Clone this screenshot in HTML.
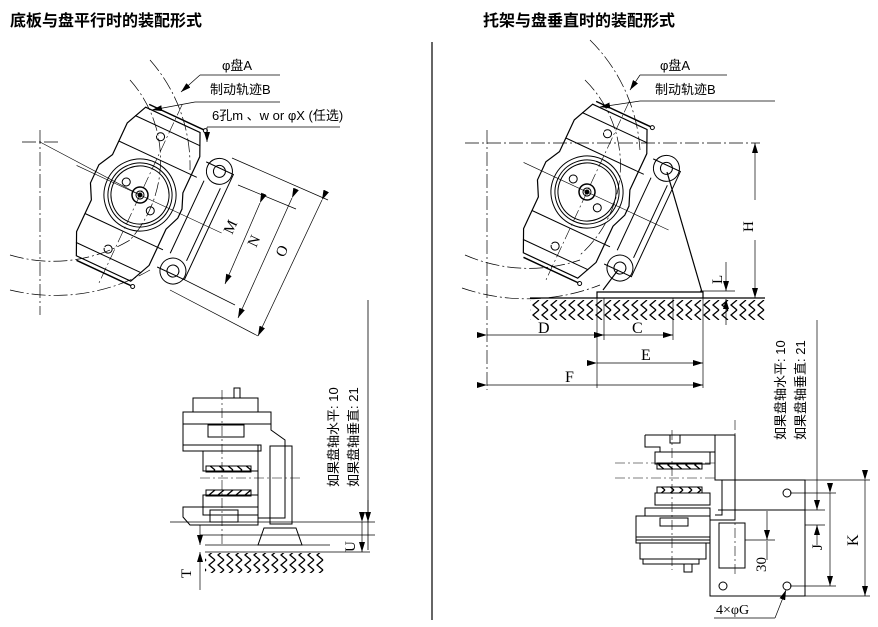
<!DOCTYPE html>
<html><head><meta charset="utf-8"><style>
html,body{margin:0;padding:0;background:#fff}
svg{display:block}
text{font-family:"Liberation Sans","Noto Sans CJK SC",sans-serif;fill:#000}
.s{font-family:"Liberation Serif","Noto Serif CJK SC",serif}
</style></head><body>
<svg width="878" height="627" viewBox="0 0 878 627" xmlns="http://www.w3.org/2000/svg" fill="none" stroke="#000" stroke-width="1">
<defs>
<pattern id="h" width="9" height="10" patternUnits="userSpaceOnUse">
<path d="M8 0 L2 5 L8 10" stroke="#000" stroke-width="1.3" fill="none"/>
</pattern>
<marker id="a" markerWidth="10" markerHeight="6" refX="10" refY="3" orient="auto" markerUnits="userSpaceOnUse"><path d="M0 0 L10 3 L0 6z" fill="#000" stroke="none"/></marker>
<g id="cal">
<path d="M-32 -82 L28 -82 L38 -60 L38 -20 L44 -5 L44 5 L38 20 L38 60 L28 82 L-32 82 L-42 60 L-42 25 L-50 10 L-50 -10 L-42 -25 L-42 -60 Z" stroke-width="1.2"/>
<path d="M-38 -70 L34 -70 M-38 70 L34 70 M-42 -40 L44 -40 M-42 40 L44 40"/>
<circle r="36"/><circle r="32"/><circle r="29"/>
<circle r="8" stroke-width="1.5"/><circle r="4"/><circle r="2" fill="#000"/>
<circle cx="-18" cy="-6" r="4"/><circle cx="16" cy="10" r="4"/>
<path d="M-10 -62 a4 4 0 1 1 0 1 M-10 62 a4 4 0 1 1 0 1" />
<path d="M-30 -86 L30 -86 M-30 86 L30 86" stroke-width="1.5"/>
<circle cx="32" cy="-86" r="2"/><circle cx="32" cy="86" r="2"/>
<path d="M0 -100 L0 100" stroke-dasharray="12 3 2 3" stroke-width=".6"/>
<path d="M-70 0 L90 0" stroke-width=".6"/>
<path d="M46 -58 L76 -58 L76 58 L46 58" />
<path d="M52 -40 L52 40 M70 -40 L70 40"/>
<circle cx="62" cy="-55" r="13"/><circle cx="62" cy="-55" r="6"/>
<circle cx="62" cy="55" r="13"/><circle cx="62" cy="55" r="6"/>
</g>
</defs>

<text x="10" y="26" font-size="16" font-weight="bold" stroke="none">底板与盘平行时的装配形式</text>
<text x="483" y="26" font-size="16" font-weight="bold" stroke="none">托架与盘垂直时的装配形式</text>
<line x1="432" y1="42" x2="432" y2="620" stroke-width="1.2"/>

<!-- LEFT TOP -->
<g stroke-width=".7" stroke-dasharray="14 3 2 3">
<path d="M150 60 A160 160 0 0 1 190 170"/>
<path d="M130 80 A120 120 0 0 1 130 240"/>
<path d="M10 255 A150 150 0 0 0 130 240"/>
<path d="M10 290 A190 190 0 0 0 150 270"/>
<line x1="40" y1="130" x2="40" y2="315"/>
<line x1="22" y1="142" x2="58" y2="142"/>
</g>
<line x1="40" y1="142" x2="140" y2="195" stroke-width=".6"/>
<g transform="translate(140,195) rotate(25)"><use href="#cal"/></g>
<text x="222" y="70" font-size="13" stroke="none">φ盘A</text>
<line x1="200" y1="75" x2="280" y2="75" stroke-width=".7"/>
<line x1="200" y1="75" x2="181" y2="92" stroke-width=".7" marker-end="url(#a)"/>
<text x="210" y="94" font-size="13" stroke="none">制动轨迹B</text>
<line x1="195" y1="102" x2="280" y2="102" stroke-width=".7"/>
<line x1="195" y1="102" x2="152" y2="110" stroke-width=".7" marker-end="url(#a)"/>
<text x="212" y="120" font-size="13" stroke="none">6孔m 、w or φX (任选)</text>
<line x1="207" y1="127" x2="340" y2="127" stroke-width=".7"/>
<line x1="207" y1="127" x2="207" y2="142" stroke-width=".7" marker-end="url(#a)"/>
<g stroke-width=".7">
<line x1="232" y1="158" x2="328" y2="200"/><line x1="238" y1="185" x2="296" y2="209"/>
<line x1="170" y1="290" x2="258" y2="336"/><line x1="185" y1="280" x2="235" y2="305"/>
<line x1="260" y1="203" x2="225" y2="284" marker-start="url(#a)" marker-end="url(#a)"/>
<line x1="292" y1="198" x2="238" y2="318" marker-start="url(#a)" marker-end="url(#a)"/>
<line x1="322" y1="200" x2="258" y2="336" marker-start="url(#a)" marker-end="url(#a)"/>
</g>
<text class="s" x="0" y="0" font-size="15" stroke="none" transform="translate(232,235) rotate(-65)">M</text>
<text class="s" x="0" y="0" font-size="15" stroke="none" transform="translate(256,248) rotate(-65)">N</text>
<text class="s" x="0" y="0" font-size="15" stroke="none" transform="translate(284,258) rotate(-65)">O</text>
<line x1="368" y1="300" x2="368" y2="550" stroke-width=".8"/>

<!-- LEFT BOTTOM -->
<g stroke-width="1">
<rect x="193" y="398" width="65" height="14"/>
<rect x="183" y="412" width="88" height="12"/>
<path d="M183 424 L271 424 L271 430 L285 440 L285 518 L258 518 L258 445 L183 445 Z"/>
<rect x="208" y="425" width="36" height="12"/>
<rect x="183" y="445" width="78" height="6"/>
<rect x="203" y="451" width="55" height="20"/>
<rect x="206" y="466" width="45" height="6" fill="url(#h)"/>
<rect x="206" y="490" width="45" height="6" fill="url(#h)"/>
<rect x="203" y="495" width="55" height="20"/>
<path d="M183 507 L258 507 L258 525 L190 525 L183 517 Z"/>
<rect x="210" y="510" width="28" height="12"/>
<rect x="270" y="446" width="22" height="78"/>
<rect x="234" y="388" width="6" height="10"/>
<path d="M264 528 L296 528 L302 545 L258 545 Z"/>
<line x1="222" y1="390" x2="222" y2="545" stroke-dasharray="10 3 2 3" stroke-width=".6"/>
<line x1="200" y1="478" x2="300" y2="478" stroke-dasharray="10 3 2 3" stroke-width=".6"/>
</g>
<g stroke-width=".7">
<line x1="170" y1="522" x2="375" y2="522"/>
<line x1="200" y1="535" x2="375" y2="535"/>
<line x1="205" y1="545" x2="330" y2="545"/>
<line x1="205" y1="552" x2="370" y2="552"/>
<line x1="200" y1="525" x2="200" y2="545" marker-end="url(#a)"/>
<line x1="200" y1="590" x2="200" y2="552" marker-end="url(#a)"/>
<line x1="362" y1="522" x2="362" y2="552" marker-start="url(#a)" marker-end="url(#a)"/>
<line x1="368" y1="500" x2="368" y2="522" marker-end="url(#a)"/>
</g>
<rect x="205" y="553" width="120" height="20" fill="url(#h)" stroke="none"/>
<text class="s" font-size="15" stroke="none" transform="translate(191,578) rotate(-90)">T</text>
<text class="s" font-size="15" stroke="none" transform="translate(355,552) rotate(-90)">U</text>
<text font-size="13" stroke="none" transform="translate(338,487) rotate(-90)">如果盘轴水平: 10</text>
<text font-size="13" stroke="none" transform="translate(358,487) rotate(-90)">如果盘轴垂直: 21</text>

<!-- RIGHT TOP -->
<g stroke-width=".7" stroke-dasharray="14 3 2 3">
<path d="M590 40 A170 170 0 0 1 640 150"/>
<path d="M585 80 A120 120 0 0 1 580 255"/>
<path d="M465 255 A160 160 0 0 0 580 260"/>
<path d="M462 288 A200 200 0 0 0 600 285"/>
<line x1="487" y1="130" x2="487" y2="390"/>
<line x1="465" y1="143" x2="760" y2="143"/>
</g>
<g transform="translate(587,192) rotate(25)"><use href="#cal"/></g>
<line x1="667" y1="172" x2="702" y2="292" stroke-width="1.2"/>
<line x1="618" y1="270" x2="603" y2="290" stroke-width="1.2"/>
<path d="M597 298 L597 292 L703 292 L703 298" stroke-width="1.2"/>
<line x1="530" y1="298" x2="765" y2="298" stroke-width="1.2"/>
<rect x="530" y="300" width="235" height="20" fill="url(#h)" stroke="none"/>
<text x="660" y="70" font-size="13" stroke="none">φ盘A</text>
<line x1="640" y1="75" x2="727" y2="75" stroke-width=".7"/>
<line x1="640" y1="75" x2="630" y2="90" stroke-width=".7" marker-end="url(#a)"/>
<text x="655" y="94" font-size="13" stroke="none">制动轨迹B</text>
<line x1="640" y1="101" x2="775" y2="101" stroke-width=".7"/>
<line x1="640" y1="101" x2="600" y2="107" stroke-width=".7" marker-end="url(#a)"/>
<g stroke-width=".7">
<line x1="755" y1="200" x2="755" y2="143" marker-end="url(#a)"/>
<line x1="755" y1="240" x2="755" y2="298" marker-end="url(#a)"/>
<line x1="726" y1="262" x2="726" y2="291" marker-end="url(#a)"/>
<line x1="726" y1="325" x2="726" y2="299" marker-end="url(#a)"/>
<line x1="700" y1="291" x2="735" y2="291"/>
<line x1="597" y1="298" x2="597" y2="388"/>
<line x1="604" y1="298" x2="604" y2="340"/>
<line x1="673" y1="298" x2="673" y2="340"/>
<line x1="703" y1="298" x2="703" y2="388"/>
<line x1="487" y1="335" x2="604" y2="335" marker-start="url(#a)" marker-end="url(#a)"/>
<line x1="604" y1="335" x2="673" y2="335" marker-start="url(#a)" marker-end="url(#a)"/>
<line x1="597" y1="363" x2="703" y2="363" marker-start="url(#a)" marker-end="url(#a)"/>
<line x1="487" y1="385" x2="703" y2="385" marker-start="url(#a)" marker-end="url(#a)"/>
</g>
<text class="s" x="735" y="230" font-size="15" stroke="none" transform="rotate(-90 745 222)">H</text>
<text class="s" x="708" y="282" font-size="15" stroke="none" transform="rotate(-90 716 276)">L</text>
<text class="s" x="538" y="333" font-size="16" stroke="none">D</text>
<text class="s" x="632" y="333" font-size="16" stroke="none">C</text>
<text class="s" x="641" y="360" font-size="16" stroke="none">E</text>
<text class="s" x="565" y="382" font-size="16" stroke="none">F</text>

<!-- RIGHT BOTTOM -->
<g stroke-width="1">
<path d="M645 435 L715 435 L715 480 L735 480 L735 435 L645 435 Z"/>
<path d="M645 435 L645 447 L660 447 L660 452 L715 452"/>
<rect x="670" y="435" width="10" height="8"/>
<rect x="655" y="452" width="55" height="12"/>
<rect x="657" y="463" width="45" height="6" fill="url(#h)"/>
<rect x="657" y="487" width="45" height="6" fill="url(#h)"/>
<rect x="655" y="493" width="55" height="12"/>
<path d="M715 480 L722 480 L722 515 L715 515"/>
<path d="M735 480 L805 480 L805 596 L710 596 L710 520 L735 520 Z"/>
<path d="M718 510 L805 510"/>
<rect x="719" y="523" width="26" height="45"/>
<rect x="645" y="508" width="65" height="8"/>
<path d="M636 516 L710 516 L710 540 L636 540 Z"/>
<rect x="660" y="518" width="28" height="8"/>
<rect x="636" y="537" width="74" height="6"/>
<rect x="640" y="543" width="66" height="16"/>
<rect x="643" y="559" width="56" height="5"/>
<rect x="684" y="564" width="8" height="8"/>
<line x1="672" y1="430" x2="672" y2="570" stroke-dasharray="10 3 2 3" stroke-width=".6"/>
<line x1="735" y1="420" x2="735" y2="575" stroke-dasharray="10 3 2 3" stroke-width=".6"/>
<line x1="615" y1="463" x2="715" y2="463" stroke-dasharray="10 3 2 3" stroke-width=".6"/>
<line x1="615" y1="478" x2="715" y2="478" stroke-dasharray="10 3 2 3" stroke-width=".6"/>
<circle cx="787" cy="493" r="4"/><circle cx="787" cy="586" r="4"/><circle cx="723" cy="586" r="4"/>
</g>
<g stroke-width=".7">
<line x1="805" y1="480" x2="870" y2="480"/>
<line x1="805" y1="596" x2="870" y2="596"/>
<line x1="790" y1="493" x2="836" y2="493"/>
<line x1="790" y1="586" x2="836" y2="586"/>
<line x1="805" y1="510" x2="825" y2="510"/>
<line x1="805" y1="525" x2="825" y2="525"/>
<line x1="817" y1="320" x2="817" y2="510" marker-end="url(#a)"/>
<line x1="817" y1="545" x2="817" y2="525" marker-end="url(#a)"/>
<line x1="830" y1="493" x2="830" y2="586" marker-start="url(#a)" marker-end="url(#a)"/>
<line x1="865" y1="480" x2="865" y2="596" marker-start="url(#a)" marker-end="url(#a)"/>
<line x1="767" y1="511" x2="767" y2="540" marker-end="url(#a)"/>
<line x1="767" y1="560" x2="767" y2="541"/>
<line x1="745" y1="540" x2="775" y2="540"/>
<line x1="714" y1="618" x2="775" y2="618"/>
<line x1="775" y1="618" x2="786" y2="590" marker-end="url(#a)"/>
</g>
<text font-size="13" stroke="none" transform="translate(785,440) rotate(-90)">如果盘轴水平: 10</text>
<text font-size="13" stroke="none" transform="translate(805,440) rotate(-90)">如果盘轴垂直: 21</text>
<text class="s" font-size="15" stroke="none" transform="translate(822,550) rotate(-90)">J</text>
<text class="s" font-size="16" stroke="none" transform="translate(858,546) rotate(-90)">K</text>
<text class="s" font-size="15" stroke="none" transform="translate(766,572) rotate(-90)">30</text>
<text class="s" x="716" y="614" font-size="14" stroke="none">4×φG</text>
</svg>
</body></html>
